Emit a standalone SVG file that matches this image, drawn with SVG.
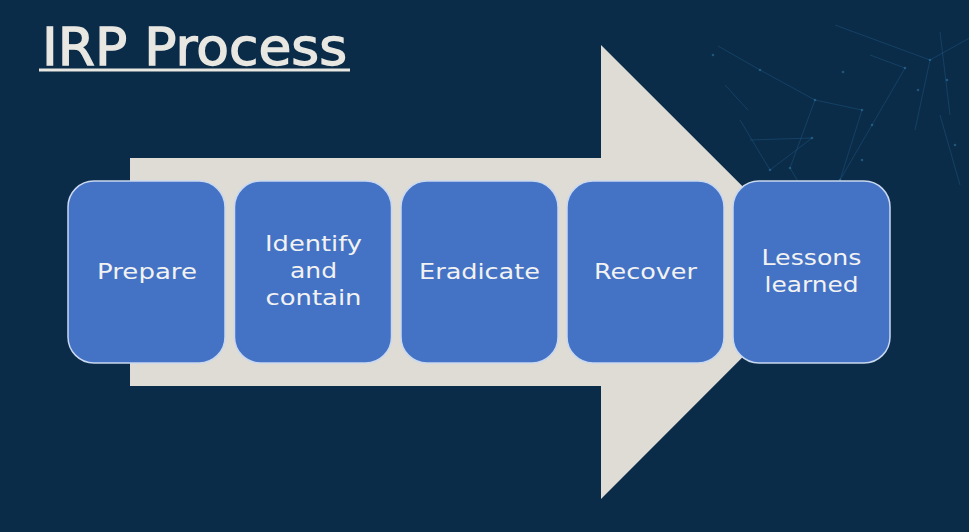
<svg xmlns="http://www.w3.org/2000/svg" width="969" height="532" viewBox="0 0 969 532">
<style>
.bg{fill:#0a2c49}
.arrow{fill:#dedcd4}
.box{fill:#4472c4;stroke:#c9d8f0;stroke-width:1.5}
.lbl{font-family:"DejaVu Sans","Liberation Sans",sans-serif;font-size:22px;fill:#f2f2f2;text-anchor:middle}
.title{font-family:"DejaVu Sans","Liberation Sans",sans-serif;font-size:51px;fill:#e9e7e1;stroke:#e9e7e1;stroke-width:1.3}
.net line{stroke:#24608e;stroke-width:1;opacity:0.4}
.net circle{fill:#2f7aa8;opacity:0.55}
</style>
<rect class="bg" x="0" y="0" width="969" height="532"/>
<g class="net">
<line x1="718" y1="46" x2="760" y2="70"/><line x1="760" y1="70" x2="815" y2="100"/><line x1="815" y1="100" x2="790" y2="168"/>
<line x1="815" y1="100" x2="862" y2="110"/><line x1="862" y1="110" x2="840" y2="180"/><line x1="790" y1="168" x2="818" y2="215"/>
<line x1="835" y1="25" x2="930" y2="60"/><line x1="930" y1="60" x2="975" y2="35"/><line x1="930" y1="60" x2="915" y2="130"/>
<line x1="870" y1="55" x2="905" y2="68"/><line x1="905" y1="68" x2="872" y2="125"/><line x1="872" y1="125" x2="840" y2="180"/>
<line x1="740" y1="120" x2="770" y2="170"/><line x1="770" y1="170" x2="812" y2="138"/><line x1="812" y1="138" x2="750" y2="140"/>
<line x1="940" y1="32" x2="950" y2="115"/><line x1="940" y1="115" x2="960" y2="185"/><line x1="725" y1="85" x2="748" y2="110"/>
<circle cx="760" cy="70" r="1.3"/><circle cx="815" cy="100" r="1.3"/><circle cx="790" cy="168" r="1.3"/><circle cx="862" cy="110" r="1.3"/>
<circle cx="840" cy="180" r="1.3"/><circle cx="930" cy="60" r="1.3"/><circle cx="905" cy="68" r="1.3"/><circle cx="872" cy="125" r="1.3"/>
<circle cx="770" cy="170" r="1.3"/><circle cx="812" cy="138" r="1.3"/><circle cx="947" cy="80" r="1.3"/><circle cx="918" cy="90" r="1.3"/>
<circle cx="843" cy="72" r="1.3"/><circle cx="713" cy="55" r="1.3"/><circle cx="955" cy="145" r="1.3"/><circle cx="862" cy="160" r="1.3"/>
</g>
<g id="arrow">
<polygon class="arrow" points="130,158 601,158 601,45 828,271.5 601,499 601,386 130,386"/>
</g>
<g id="title">
<text class="title" x="42" y="65" textLength="305" lengthAdjust="spacingAndGlyphs">IRP Process</text>
<rect x="39" y="68.5" width="311" height="3" fill="#e9e7e1"/>
</g>
<g id="connectors"></g>
<g id="prepare">
<rect class="box" x="68" y="181" width="157" height="182" rx="26"/>
<text class="lbl" x="147" y="279" textLength="100" lengthAdjust="spacingAndGlyphs">Prepare</text>
</g>
<g id="identify">
<rect class="box" x="234.5" y="181" width="157" height="182" rx="26"/>
<text class="lbl" x="313.5" y="251" textLength="97" lengthAdjust="spacingAndGlyphs">Identify</text>
<text class="lbl" x="313.5" y="278" textLength="47" lengthAdjust="spacingAndGlyphs">and</text>
<text class="lbl" x="313.5" y="305" textLength="96" lengthAdjust="spacingAndGlyphs">contain</text>
</g>
<g id="eradicate">
<rect class="box" x="401" y="181" width="157" height="182" rx="26"/>
<text class="lbl" x="479.5" y="279" textLength="121" lengthAdjust="spacingAndGlyphs">Eradicate</text>
</g>
<g id="recover">
<rect class="box" x="567" y="181" width="157" height="182" rx="26"/>
<text class="lbl" x="645.5" y="279" textLength="103" lengthAdjust="spacingAndGlyphs">Recover</text>
</g>
<g id="lessons">
<rect class="box" x="733" y="181" width="157" height="182" rx="26"/>
<text class="lbl" x="811.5" y="265" textLength="100" lengthAdjust="spacingAndGlyphs">Lessons</text>
<text class="lbl" x="811.5" y="292" textLength="94" lengthAdjust="spacingAndGlyphs">learned</text>
</g>
</svg>
